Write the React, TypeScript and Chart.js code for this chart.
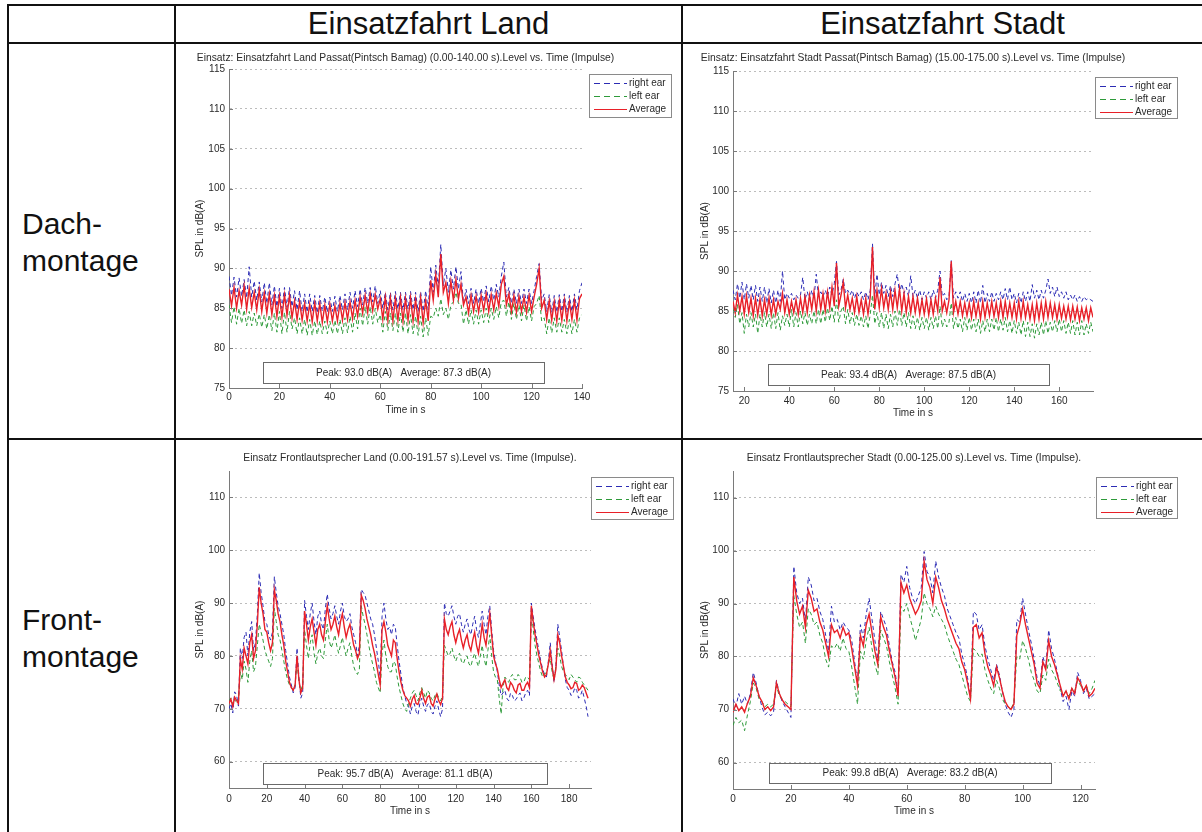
import React, { useEffect, useRef } from "react";
import { Chart, registerables } from "chart.js";

Chart.register(...registerables);

const FONT = '"Liberation Sans", Arial, Helvetica, sans-serif';
const RIGHT_COLOR = "#2c2cb4";
const LEFT_COLOR = "#2e9a3a";
const AVG_COLOR = "#e82028";
const AXIS_COLOR = "#7a7a7a";
const GRID_COLOR = "#bcbcbc";
const TEXT_COLOR = "#2a2a2a";

// ---- Dachmontage, Einsatzfahrt Land: 0–140 s, one sample per second ----
const dachLandT0 = 0;
const dachLandDt = 1;
const dachLandRight = [
  89.0, 86.6, 88.9, 86.4, 88.8, 86.5, 88.6, 86.3, 90.2, 86.4,
  88.4, 86.0, 88.3, 85.8, 88.2, 85.6, 88.2, 85.4, 87.8, 85.2,
  87.5, 85.0, 87.6, 85.1, 87.6, 85.2, 87.2, 84.8, 87.2, 84.6,
  86.8, 84.5, 86.8, 84.6, 86.6, 84.4, 86.6, 84.6, 86.4, 84.5,
  86.4, 84.6, 86.5, 84.6, 86.6, 84.8, 86.8, 84.8, 87.0, 85.0,
  87.2, 85.2, 87.4, 85.4, 87.6, 85.6, 87.6, 85.8, 87.8, 85.6,
  87.2, 85.0, 87.0, 84.8, 87.0, 84.8, 87.1, 84.9, 87.0, 84.8,
  87.0, 84.9, 87.1, 84.8, 87.0, 84.6, 87.1, 84.6, 87.2, 84.8,
  90.2, 87.0, 90.4, 87.6, 93.0, 87.8, 90.0, 87.0, 89.8, 87.4,
  90.2, 87.4, 89.6, 85.6, 87.4, 85.6, 87.5, 85.6, 87.4, 85.6,
  87.5, 85.8, 87.8, 85.8, 87.8, 86.0, 88.0, 86.4, 89.0, 90.8,
  86.4, 87.6, 85.6, 87.4, 85.6, 87.4, 85.6, 87.4, 85.6, 87.4,
  85.6, 87.2, 89.0, 90.6, 86.0, 86.8, 84.6, 86.7, 84.5, 86.6,
  84.5, 86.7, 84.6, 86.8, 84.5, 86.6, 84.6, 86.8, 84.8, 87.2,
  88.2,
];
const dachLandLeft = [
  85.4, 83.2, 85.2, 83.0, 85.0, 83.1, 84.8, 82.8, 84.6, 82.8,
  84.4, 82.8, 84.3, 82.6, 84.2, 82.4, 84.2, 82.2, 84.4, 82.0,
  84.6, 81.8, 84.5, 82.0, 84.6, 82.4, 83.8, 81.8, 83.8, 81.8,
  83.6, 81.6, 83.6, 81.6, 83.4, 81.7, 83.4, 81.8, 83.4, 81.8,
  83.4, 81.8, 83.5, 81.8, 83.6, 81.8, 83.8, 81.9, 84.0, 82.0,
  84.4, 82.4, 85.0, 82.8, 85.2, 83.0, 85.2, 83.0, 85.0, 83.2,
  84.2, 82.0, 84.6, 82.2, 84.4, 82.2, 84.4, 82.0, 84.4, 82.0,
  84.4, 81.8, 84.2, 81.8, 84.0, 81.6, 84.0, 81.4, 83.8, 81.6,
  84.0, 83.8, 85.0, 84.0, 86.2, 84.2, 85.0, 83.6, 85.4, 85.8,
  87.0, 85.6, 85.6, 83.0, 84.8, 83.0, 84.8, 83.0, 84.8, 83.0,
  84.8, 83.2, 85.0, 83.2, 85.0, 83.6, 85.2, 83.8, 85.8, 86.0,
  84.0, 85.8, 83.6, 85.6, 83.6, 85.4, 83.4, 85.4, 83.4, 85.2,
  83.4, 85.2, 85.6, 86.6, 83.4, 83.8, 81.8, 83.8, 81.9, 83.8,
  82.0, 83.8, 82.0, 83.6, 81.8, 83.6, 81.8, 83.6, 82.0, 83.8,
  84.2,
];
const dachLandAvg = [
  87.4, 85.3, 87.6, 85.0, 87.2, 85.4, 87.8, 84.9, 87.5, 85.1,
  87.0, 84.8, 87.3, 84.6, 86.9, 84.4, 86.8, 84.2, 86.6, 84.0,
  86.5, 83.9, 86.7, 84.1, 86.6, 83.8, 85.9, 83.6, 85.8, 83.5,
  85.6, 83.4, 85.5, 83.3, 85.7, 83.4, 85.6, 83.2, 85.4, 83.3,
  85.5, 83.4, 85.3, 83.4, 85.6, 83.5, 85.7, 83.6, 85.8, 83.7,
  86.0, 84.0, 86.4, 84.4, 86.6, 84.5, 86.8, 84.7, 86.7, 84.9,
  86.2, 83.6, 86.4, 83.5, 86.3, 83.4, 86.2, 83.5, 86.3, 83.4,
  86.2, 83.5, 86.3, 83.4, 86.1, 83.3, 86.3, 83.2, 86.0, 83.4,
  88.5, 86.0, 89.2, 86.4, 91.8, 87.0, 88.2, 85.6, 88.4, 86.0,
  88.6, 86.2, 88.0, 85.4, 86.4, 84.4, 86.6, 84.6, 86.5, 84.5,
  86.6, 84.7, 86.8, 84.6, 86.7, 84.8, 86.9, 85.2, 88.0, 89.0,
  85.4, 86.8, 84.6, 86.6, 84.5, 86.5, 84.6, 86.4, 84.5, 86.6,
  84.6, 86.4, 88.0, 90.0, 85.0, 86.0, 83.6, 85.9, 83.5, 85.8,
  83.4, 85.9, 83.5, 86.0, 83.4, 85.8, 83.6, 86.0, 83.5, 86.2,
  86.8,
];
const dachLandPeak = 93.0;
const dachLandAverage = 87.3;

// ---- Dachmontage, Einsatzfahrt Stadt: 15–175 s, one sample per second ----
const dachStadtT0 = 15;
const dachStadtDt = 1;
const dachStadtRight = [
  87.6, 86.4, 88.4, 86.6, 88.6, 86.4, 88.4, 86.6, 88.2, 86.4,
  88.2, 86.2, 88.0, 86.2, 88.0, 86.0, 87.8, 86.0, 87.6, 86.0,
  87.6, 86.2, 90.0, 86.4, 87.2, 86.6, 87.2, 86.4, 87.0, 86.6,
  87.0, 89.2, 86.4, 87.4, 86.4, 87.6, 86.6, 89.6, 86.8, 87.4,
  86.8, 87.6, 86.8, 88.0, 87.0, 88.4, 91.2, 87.0, 87.6, 89.0,
  87.2, 87.6, 87.0, 87.6, 86.6, 87.4, 86.8, 87.4, 86.4, 87.4,
  86.4, 87.6, 93.4, 86.8, 89.6, 87.0, 88.6, 87.2, 88.2, 86.8,
  88.2, 86.8, 88.4, 89.6, 87.2, 88.4, 87.2, 88.0, 86.8, 89.4,
  86.8, 87.6, 86.6, 87.6, 86.4, 87.4, 86.6, 87.4, 86.4, 87.6,
  86.6, 87.6, 90.0, 86.8, 87.2, 86.4, 86.8, 91.3, 86.6, 87.4,
  86.6, 87.4, 86.2, 87.2, 86.2, 87.2, 86.0, 87.4, 86.0, 87.6,
  86.0, 88.2, 86.0, 87.2, 86.2, 87.4, 86.2, 87.2, 86.4, 87.4,
  86.4, 87.8, 86.4, 88.0, 86.4, 87.2, 86.0, 87.2, 86.0, 87.4,
  86.2, 87.4, 86.2, 88.3, 86.6, 87.6, 86.4, 87.6, 86.6, 87.6,
  89.0, 87.2, 88.0, 86.8, 88.0, 86.8, 87.4, 86.6, 87.4, 86.4,
  87.0, 86.4, 87.0, 86.2, 86.8, 86.2, 86.8, 86.4, 86.6, 86.4,
  86.2,
];
const dachStadtLeft = [
  85.2, 84.2, 85.8, 83.4, 84.8, 82.2, 84.6, 83.0, 84.8, 83.0,
  84.6, 82.2, 84.6, 83.0, 84.8, 83.0, 84.6, 82.8, 84.8, 82.8,
  84.8, 82.6, 84.4, 83.2, 84.6, 83.0, 85.2, 83.0, 84.8, 83.0,
  85.0, 83.4, 84.8, 83.2, 84.6, 83.4, 85.0, 83.4, 85.2, 83.4,
  85.2, 83.6, 85.4, 83.8, 85.6, 83.6, 86.4, 83.6, 85.0, 85.6,
  83.4, 85.2, 83.4, 84.8, 83.2, 84.6, 83.2, 84.4, 83.0, 84.4,
  82.8, 84.6, 87.0, 83.4, 84.8, 83.0, 84.8, 82.8, 84.6, 82.8,
  84.6, 83.0, 85.0, 83.2, 85.2, 83.2, 84.8, 83.0, 84.8, 82.8,
  84.4, 82.8, 84.2, 82.6, 84.2, 82.8, 84.2, 82.6, 84.2, 82.8,
  84.4, 82.8, 85.6, 83.0, 84.0, 83.0, 83.6, 86.0, 82.8, 84.2,
  82.8, 84.0, 82.4, 84.2, 82.6, 84.2, 82.6, 84.0, 82.4, 84.0,
  82.2, 83.8, 82.4, 84.0, 82.4, 84.0, 82.6, 84.2, 82.4, 84.0,
  82.6, 84.2, 82.4, 83.8, 82.2, 83.8, 82.2, 83.6, 82.0, 83.8,
  81.8, 83.6, 81.8, 83.4, 81.6, 83.4, 82.0, 83.6, 82.0, 83.8,
  82.2, 83.6, 82.4, 83.8, 82.4, 84.0, 82.4, 83.8, 82.2, 83.6,
  82.2, 83.8, 82.0, 83.6, 82.0, 83.8, 82.0, 83.4, 82.2, 83.6,
  82.4,
];
const dachStadtAvg = [
  86.2, 84.8, 87.0, 85.0, 86.8, 84.6, 86.9, 84.8, 86.6, 84.4,
  86.6, 84.5, 86.5, 84.4, 86.4, 84.6, 86.6, 84.5, 86.4, 84.6,
  86.2, 85.2, 87.2, 84.8, 86.4, 84.6, 86.2, 84.8, 86.4, 84.6,
  86.6, 84.8, 86.8, 84.8, 87.0, 85.2, 87.4, 85.0, 87.6, 85.2,
  87.2, 85.0, 87.4, 85.4, 88.0, 85.6, 91.0, 85.6, 87.0, 88.6,
  85.4, 87.0, 85.2, 86.6, 84.8, 86.8, 84.8, 86.4, 84.6, 86.6,
  84.6, 86.8, 93.0, 85.2, 87.6, 85.4, 87.8, 85.4, 87.2, 85.2,
  87.4, 85.2, 87.6, 85.4, 87.8, 85.0, 87.2, 84.8, 86.8, 84.8,
  86.8, 84.8, 86.6, 84.6, 86.4, 84.6, 86.5, 84.5, 86.4, 84.6,
  86.6, 85.0, 89.2, 85.0, 86.2, 84.8, 86.4, 91.2, 84.8, 86.2,
  84.6, 86.2, 84.4, 86.0, 84.4, 86.0, 84.2, 86.2, 84.3, 86.0,
  84.0, 86.2, 84.2, 86.0, 84.4, 86.2, 84.3, 86.0, 84.2, 86.2,
  84.2, 86.2, 84.3, 86.0, 84.2, 86.0, 84.0, 86.2, 84.1, 86.2,
  84.2, 85.8, 84.0, 85.8, 83.8, 86.0, 84.0, 86.0, 84.0, 86.2,
  84.2, 86.0, 84.2, 85.8, 84.0, 85.8, 84.1, 85.6, 84.0, 85.6,
  83.9, 85.6, 84.0, 85.5, 83.8, 85.4, 84.0, 85.4, 83.8, 85.4,
  84.2,
];
const dachStadtPeak = 93.4;
const dachStadtAverage = 87.5;

// ---- Frontmontage, Land: 0–190 s, one sample per second ----
const frontLandT0 = 0;
const frontLandDt = 1;
const frontLandRight = [
  70.0, 71.0, 69.2, 73.2, 72.6, 70.5, 81.5, 79.5, 83.5, 84.5,
  80.0, 84.5, 86.5, 81.0, 82.5, 88.0, 95.7, 92.0, 89.5, 86.5,
  86.0, 84.0, 83.0, 84.5, 95.0, 92.0, 89.5, 88.0, 86.0, 84.0,
  81.0, 78.5, 76.0, 74.5, 73.0, 74.0, 81.5, 76.0, 72.0, 73.0,
  90.5, 87.5, 85.0, 88.0, 90.0, 86.5, 84.0, 87.5, 88.5, 86.0,
  85.0, 89.0, 91.7, 89.0, 87.0, 88.0, 89.5, 87.5, 86.0, 88.5,
  90.0, 87.5, 86.5, 87.0, 88.0, 85.5, 84.0, 82.5, 80.0, 82.0,
  92.6, 92.0, 91.5, 90.0, 88.5, 87.0, 86.0, 84.0, 81.5, 79.0,
  76.0, 87.5, 90.0, 87.0, 85.0, 85.5, 84.0, 86.0, 85.5, 82.0,
  79.0, 76.5, 74.0, 72.5, 71.0, 70.5, 69.0, 70.5, 71.0, 69.5,
  68.8, 71.0, 72.0, 70.5, 69.5, 70.8, 71.0, 69.5, 69.0, 70.5,
  71.5, 69.8, 68.5, 70.0, 90.0, 88.0, 87.5, 88.5, 89.5, 87.5,
  86.0, 87.5, 88.0, 86.0, 84.5, 86.0, 87.0, 85.0, 84.0, 86.0,
  87.5, 85.0, 83.5, 86.0, 88.5, 86.0, 84.0, 87.5, 89.5, 85.0,
  81.0, 79.0, 77.0, 74.5, 72.5, 73.0, 73.5, 72.0, 71.5, 73.0,
  72.5, 71.5, 71.8, 72.5, 73.0, 71.5, 72.0, 73.0, 73.5, 72.5,
  90.0, 87.5, 85.0, 83.0, 81.0, 79.0, 77.5, 76.5, 76.0, 79.0,
  82.5, 78.5, 75.0, 78.0, 86.0, 83.5, 81.0, 78.0, 75.5, 74.0,
  73.5, 72.5, 72.8, 74.0, 73.5, 72.0, 72.5, 73.5, 72.0, 70.5,
  68.5,
];
const frontLandLeft = [
  71.5, 72.0, 70.8, 71.8, 71.0, 71.5, 77.0, 75.5, 79.0, 77.5,
  75.0, 79.0, 81.0, 77.0, 78.0, 82.0, 86.0, 84.5, 83.0, 81.0,
  80.0, 79.0, 78.0, 79.5, 89.0, 86.5, 84.0, 83.0, 81.0, 79.0,
  77.0, 75.5, 74.5, 74.0, 73.5, 74.5, 79.0, 75.0, 73.5, 74.5,
  85.0, 82.0, 79.5, 82.5, 84.0, 80.5, 78.5, 80.5, 81.5, 80.0,
  79.5, 83.0, 86.0, 83.0, 81.5, 82.5, 84.0, 82.0, 80.5, 82.0,
  83.5, 81.5, 80.0, 81.5, 82.5, 80.0, 78.0, 77.0, 76.5, 77.5,
  89.5, 87.5, 86.0, 84.0, 82.0, 80.0, 78.5, 77.0, 75.0, 74.0,
  73.0, 80.5, 83.0, 80.0, 78.0, 77.0, 77.0, 79.0, 78.5, 76.0,
  74.0, 72.5, 71.0, 70.0, 69.5, 71.0, 72.0, 73.0, 73.5, 72.5,
  71.5, 73.0, 74.0, 73.0, 72.0, 73.5, 73.0, 72.0, 71.5, 72.5,
  73.0, 72.0, 71.5, 72.5, 82.0, 81.0, 80.0, 80.5, 81.5, 80.0,
  79.0, 80.0, 80.5, 79.0, 78.5, 79.5, 80.0, 78.5, 78.0, 79.5,
  80.5, 79.0, 78.0, 80.0, 82.0, 79.5, 78.0, 81.0, 84.0, 80.0,
  77.0, 76.0, 75.5, 72.0, 69.0, 74.0, 76.0, 75.5, 75.0, 76.0,
  76.5, 75.5, 75.5, 76.5, 76.0, 75.0, 75.0, 76.0, 76.0, 75.5,
  88.5, 85.0, 82.0, 80.0, 78.5, 77.0, 76.0, 76.5, 77.0, 78.5,
  79.5, 77.0, 75.5, 78.0, 81.5, 80.0, 78.0, 77.0, 76.5, 76.0,
  75.5, 76.5, 76.0, 75.5, 75.0, 76.0, 75.8, 75.0, 74.5, 74.0,
  73.5,
];
const frontLandAvg = [
  71.0, 71.8, 70.4, 72.2, 71.6, 71.0, 79.5, 77.5, 81.5, 80.0,
  78.5, 82.5, 84.0, 79.5, 81.0, 86.0, 93.0, 90.0, 88.0, 85.0,
  84.5, 82.5, 81.0, 82.5, 92.5, 90.5, 88.0, 86.5, 84.0, 82.0,
  79.0, 77.0, 75.0, 74.0, 73.5, 74.5, 80.0, 75.5, 73.0, 74.0,
  88.5, 86.0, 83.0, 85.5, 87.0, 84.5, 82.0, 85.0, 86.0, 84.0,
  83.0, 86.5, 89.5, 87.0, 85.0, 86.0, 87.5, 85.5, 84.0, 86.5,
  88.0, 85.5, 83.5, 85.0, 86.0, 84.0, 82.0, 81.0, 79.5, 80.5,
  91.5, 90.5, 89.0, 87.0, 85.5, 84.0, 82.0, 80.5, 78.5, 76.5,
  74.5, 85.0, 86.5, 84.5, 82.0, 81.0, 80.0, 83.0, 82.5, 79.5,
  77.0, 75.0, 73.5, 72.5, 72.0, 71.5, 70.5, 71.8, 72.5, 71.0,
  70.8, 72.0, 73.5, 72.0, 71.0, 72.2, 72.5, 71.0, 70.5, 71.8,
  72.8, 71.5, 70.8, 72.0, 87.0, 85.0, 84.0, 85.5, 86.5, 84.0,
  82.5, 84.0, 85.0, 83.0, 81.5, 83.0, 84.0, 82.0, 81.0, 83.0,
  84.5, 82.0, 80.5, 83.0, 86.0, 83.5, 82.0, 85.0, 88.0, 84.0,
  80.0, 78.5, 77.5, 75.5, 74.0, 74.8, 75.5, 74.0, 73.5, 75.0,
  74.5, 73.5, 73.0, 74.5, 74.8, 73.5, 73.5, 74.5, 75.0, 74.0,
  89.5, 86.5, 84.0, 82.0, 80.0, 78.5, 77.0, 76.0, 76.5, 78.5,
  81.0, 78.0, 75.5, 77.5, 84.0, 82.5, 80.0, 78.0, 76.0, 75.0,
  74.5, 73.8, 74.0, 75.0, 74.8, 73.5, 73.8, 74.5, 74.0, 73.0,
  72.0,
];
const frontLandPeak = 95.7;
const frontLandAverage = 81.1;

// ---- Frontmontage, Stadt: 0–125 s, one sample per second ----
const frontStadtT0 = 0;
const frontStadtDt = 1;
const frontStadtRight = [
  72.0, 70.5, 73.0, 71.0, 72.5, 71.0, 73.0, 77.0, 75.0, 72.5,
  70.5, 69.0, 69.5, 68.8, 69.5, 75.5, 73.0, 71.5, 70.5, 69.5,
  68.5, 97.0, 92.0, 90.0, 91.0, 86.5, 95.0, 93.5, 90.5, 91.0,
  88.5, 87.0, 84.0, 81.0, 89.5, 86.5, 87.0, 85.0, 86.5, 85.5,
  85.0, 83.0, 79.0, 75.0, 86.0, 83.5, 88.0, 91.0, 87.0, 83.0,
  79.5, 88.5, 87.0, 85.5, 82.0, 79.0, 77.0, 73.0, 95.5, 94.0,
  97.0, 93.0, 91.0, 90.0, 91.5, 93.0, 99.8, 96.0, 95.0, 92.0,
  98.0, 95.0, 93.0, 91.5, 89.0, 87.5, 86.0, 84.5, 83.5, 80.5,
  78.5, 76.0, 72.0, 88.5, 88.0, 85.0, 86.0, 82.0, 79.5, 77.5,
  75.5, 78.5, 76.5, 73.5, 71.0, 69.5, 68.5, 70.0, 87.0, 86.5,
  91.0, 88.0, 85.0, 82.5, 79.5, 76.0, 74.5, 80.0, 78.0, 85.0,
  81.5, 79.5, 77.0, 74.0, 71.5, 72.5, 70.0, 73.5, 72.5, 77.0,
  75.5, 73.0, 74.0, 72.0, 72.5, 73.0,
];
const frontStadtLeft = [
  67.0, 68.5, 67.5, 68.0, 66.0, 69.0, 71.5, 75.0, 74.0, 72.0,
  71.5, 70.5, 71.0, 70.5, 71.0, 74.5, 72.5, 72.0, 71.5, 71.0,
  70.5, 91.5, 88.0, 85.5, 86.5, 82.5, 89.0, 88.0, 86.0, 86.5,
  84.0, 82.5, 79.5, 78.0, 82.0, 81.5, 82.5, 81.0, 83.5, 81.5,
  81.0, 78.0, 74.5, 71.0, 81.0, 79.5, 83.0, 85.5, 81.5, 78.5,
  76.5, 85.0, 83.5, 82.0, 79.0, 76.5, 74.0, 71.0, 89.5, 88.5,
  90.0, 87.5, 85.5, 83.0, 85.0, 87.0, 92.0, 90.0, 89.0, 87.5,
  89.5, 88.0, 87.0, 86.0, 84.0, 82.5, 81.0, 79.5, 78.5, 76.5,
  74.5, 72.5, 71.5, 81.5, 81.0, 80.0, 80.5, 77.5, 75.5, 74.0,
  73.0, 75.5, 74.0, 72.0, 71.0, 70.5, 70.0, 71.5, 80.0, 79.5,
  83.0, 81.5, 79.5, 77.0, 75.5, 73.5, 73.0, 76.5, 75.5, 79.5,
  77.5, 76.5, 75.0, 73.5, 73.0, 73.5, 72.5, 74.0, 73.5, 75.5,
  74.5, 73.5, 74.5, 73.0, 74.0, 75.5,
];
const frontStadtAvg = [
  69.5, 71.0, 69.8, 70.5, 69.5, 71.2, 72.5, 76.0, 74.5, 72.5,
  71.5, 70.0, 70.5, 69.8, 70.5, 75.0, 73.0, 71.8, 71.0, 70.5,
  70.0, 95.0, 90.5, 88.0, 89.5, 85.5, 92.5, 91.0, 88.5, 89.0,
  86.5, 85.0, 82.5, 80.0, 86.0, 84.5, 85.0, 83.5, 85.5, 84.0,
  84.5, 81.5, 78.0, 74.5, 84.0, 82.0, 86.0, 88.0, 84.5, 81.0,
  78.5, 87.5, 85.5, 84.0, 81.0, 78.5, 76.0, 72.5, 94.0, 92.0,
  93.5, 91.0, 89.5, 88.0, 89.0, 90.5, 98.0, 94.5, 93.0, 90.0,
  95.0, 93.0, 90.5, 89.0, 87.0, 85.5, 84.0, 82.5, 81.5, 79.0,
  77.5, 75.0, 72.0, 85.5, 86.0, 83.5, 84.5, 80.5, 78.0, 76.5,
  74.5, 78.0, 76.0, 73.5, 71.5, 70.5, 70.0, 71.0, 84.0, 86.0,
  89.0, 86.0, 83.5, 81.0, 78.5, 75.0, 74.0, 79.0, 77.5, 83.0,
  80.0, 78.5, 76.5, 74.5, 72.5, 73.5, 72.0, 74.0, 73.0, 76.0,
  75.0, 73.5, 74.5, 72.5, 73.0, 74.0,
];
const frontStadtPeak = 99.8;
const frontStadtAverage = 83.2;

// ---- Axis ticks ----
const dachYTicks = [75, 80, 85, 90, 95, 100, 105, 110, 115];
const frontYTicks = [60, 70, 80, 90, 100, 110];
const dachLandXTicks = [0, 20, 40, 60, 80, 100, 120, 140];
const dachStadtXTicks = [20, 40, 60, 80, 100, 120, 140, 160];
const frontLandXTicks = [0, 20, 40, 60, 80, 100, 120, 140, 160, 180];
const frontStadtXTicks = [0, 20, 40, 60, 80, 100, 120];

// ---- Table labels ----
const columnHeaders = ["Einsatzfahrt Land", "Einsatzfahrt Stadt"];
const rowHeaders = [["Dach-", "montage"], ["Front-", "montage"]];

const seriesStyles = [
  { label: "right ear", color: RIGHT_COLOR, width: 1, dash: [4, 3], keyDash: [6, 4] },
  { label: "left ear", color: LEFT_COLOR, width: 1, dash: [4, 3], keyDash: [6, 4] },
  { label: "Average", color: AVG_COLOR, width: 1.4, dash: [] as number[], keyDash: [] as number[] },
];

type Rect = [number, number, number, number];

interface Panel {
  id: string;
  left: number;
  top: number;
  width: number;
  height: number;
  plot: Rect; // left, top, right, bottom inside the canvas
  title: string;
  titleY: number;
  xLabelY: number;
  yLabelX: number;
  tickPad: number;
  t0: number;
  dt: number;
  xMin: number;
  xMax: number;
  xTicks: number[];
  yMin: number;
  yMax: number;
  yTicks: number[];
  right: number[];
  leftEar: number[];
  avg: number[];
  peak: number;
  average: number;
  legendBox: Rect;
  summaryBox: Rect;
}

const panels: Panel[] = [
  {
    id: "dach-land",
    left: 177, top: 45, width: 504, height: 392,
    plot: [52, 24, 405, 343],
    title: "Einsatz: Einsatzfahrt Land Passat(Pintsch Bamag) (0.00-140.00 s).Level vs. Time (Impulse)",
    titleY: 13, xLabelY: 365, yLabelX: 23, tickPad: 3,
    t0: dachLandT0, dt: dachLandDt, xMin: 0, xMax: 140, xTicks: dachLandXTicks,
    yMin: 75, yMax: 115, yTicks: dachYTicks,
    right: dachLandRight, leftEar: dachLandLeft, avg: dachLandAvg,
    peak: dachLandPeak, average: dachLandAverage,
    legendBox: [412, 29, 494, 72],
    summaryBox: [86, 317, 367, 338],
  },
  {
    id: "dach-stadt",
    left: 684, top: 45, width: 518, height: 392,
    plot: [49, 26, 409, 346],
    title: "Einsatz: Einsatzfahrt Stadt Passat(Pintsch Bamag) (15.00-175.00 s).Level vs. Time (Impulse)",
    titleY: 13, xLabelY: 368, yLabelX: 21, tickPad: 4,
    t0: dachStadtT0, dt: dachStadtDt, xMin: 15, xMax: 175, xTicks: dachStadtXTicks,
    yMin: 75, yMax: 115, yTicks: dachYTicks,
    right: dachStadtRight, leftEar: dachStadtLeft, avg: dachStadtAvg,
    peak: dachStadtPeak, average: dachStadtAverage,
    legendBox: [411, 32, 493, 73],
    summaryBox: [84, 319, 365, 340],
  },
  {
    id: "front-land",
    left: 177, top: 441, width: 504, height: 391,
    plot: [52, 30, 414, 347],
    title: "Einsatz Frontlautsprecher Land (0.00-191.57 s).Level vs. Time (Impulse).",
    titleY: 17, xLabelY: 370, yLabelX: 23, tickPad: 5,
    t0: frontLandT0, dt: frontLandDt, xMin: 0, xMax: 191.57, xTicks: frontLandXTicks,
    yMin: 55, yMax: 115, yTicks: frontYTicks,
    right: frontLandRight, leftEar: frontLandLeft, avg: frontLandAvg,
    peak: frontLandPeak, average: frontLandAverage,
    legendBox: [414, 36, 496, 78],
    summaryBox: [86, 322, 370, 343],
  },
  {
    id: "front-stadt",
    left: 684, top: 441, width: 518, height: 391,
    plot: [49, 30, 411, 348],
    title: "Einsatz Frontlautsprecher Stadt (0.00-125.00 s).Level vs. Time (Impulse).",
    titleY: 17, xLabelY: 370, yLabelX: 21, tickPad: 4,
    t0: frontStadtT0, dt: frontStadtDt, xMin: 0, xMax: 125, xTicks: frontStadtXTicks,
    yMin: 55, yMax: 115, yTicks: frontYTicks,
    right: frontStadtRight, leftEar: frontStadtLeft, avg: frontStadtAvg,
    peak: frontStadtPeak, average: frontStadtAverage,
    legendBox: [412, 36, 493, 77],
    summaryBox: [85, 322, 367, 342],
  },
];

// Titles, axis labels, inward tick marks, legend and the peak/average box.
function decorations(p: Panel) {
  return {
    id: "splDecor",
    afterDraw(chart: any) {
      const { ctx, chartArea: a, scales } = chart;
      const xs = scales.x;
      const ys = scales.y;
      const cx = (a.left + a.right) / 2;
      ctx.save();

      ctx.strokeStyle = AXIS_COLOR;
      ctx.lineWidth = 1;
      ctx.setLineDash([]);
      ctx.beginPath();
      for (const v of p.yTicks) {
        const y = Math.round(ys.getPixelForValue(v)) + 0.5;
        ctx.moveTo(a.left, y);
        ctx.lineTo(a.left + 4, y);
      }
      for (const v of p.xTicks) {
        const x = Math.round(xs.getPixelForValue(v)) + 0.5;
        ctx.moveTo(x, a.bottom);
        ctx.lineTo(x, a.bottom - 4);
      }
      ctx.stroke();

      ctx.fillStyle = TEXT_COLOR;
      ctx.textAlign = "center";
      ctx.textBaseline = "middle";
      ctx.font = `10.3px ${FONT}`;
      ctx.fillText(p.title, cx, p.titleY);

      ctx.font = `10px ${FONT}`;
      ctx.fillText("Time in s", cx, p.xLabelY);
      ctx.save();
      ctx.translate(p.yLabelX, (a.top + a.bottom) / 2);
      ctx.rotate(-Math.PI / 2);
      ctx.fillText("SPL in dB(A)", 0, 0);
      ctx.restore();

      // summary box
      const [sx1, sy1, sx2, sy2] = p.summaryBox;
      ctx.fillStyle = "#ffffff";
      ctx.fillRect(sx1, sy1, sx2 - sx1, sy2 - sy1);
      ctx.strokeStyle = "#6a6a6a";
      ctx.strokeRect(sx1 + 0.5, sy1 + 0.5, sx2 - sx1, sy2 - sy1);
      ctx.fillStyle = TEXT_COLOR;
      ctx.fillText(
        `Peak: ${p.peak.toFixed(1)} dB(A)   Average: ${p.average.toFixed(1)} dB(A)`,
        (sx1 + sx2) / 2,
        (sy1 + sy2) / 2 + 0.5
      );

      // legend
      const [lx1, ly1, lx2, ly2] = p.legendBox;
      ctx.fillStyle = "#ffffff";
      ctx.fillRect(lx1, ly1, lx2 - lx1, ly2 - ly1);
      ctx.strokeStyle = "#8a8a8a";
      ctx.strokeRect(lx1 + 0.5, ly1 + 0.5, lx2 - lx1, ly2 - ly1);
      ctx.textAlign = "left";
      seriesStyles.forEach((s, i) => {
        const y = Math.round(ly1 + 9 + i * 13) + 0.5;
        ctx.save();
        ctx.strokeStyle = s.color;
        ctx.lineWidth = 1;
        ctx.setLineDash(s.keyDash);
        ctx.beginPath();
        ctx.moveTo(lx1 + 5, y);
        ctx.lineTo(lx1 + 38, y);
        ctx.stroke();
        ctx.restore();
        ctx.fillStyle = TEXT_COLOR;
        ctx.fillText(s.label, lx1 + 40, y);
      });

      ctx.restore();
    },
  };
}

function SplChart({ p }: { p: Panel }) {
  const ref = useRef<HTMLCanvasElement>(null);

  useEffect(() => {
    const canvas = ref.current;
    if (!canvas) return;
    const toPoints = (vals: number[]) => vals.map((v, i) => ({ x: p.t0 + i * p.dt, y: v }));
    const [pl, pt, pr, pb] = p.plot;
    const tickFont = { family: FONT, size: 10 };
    const values = [p.right, p.leftEar, p.avg];

    const chart = new Chart(canvas, {
      type: "line",
      data: {
        datasets: seriesStyles.map((s, i) => ({
          label: s.label,
          data: toPoints(values[i]),
          borderColor: s.color,
          borderWidth: s.width,
          borderDash: s.dash,
          pointRadius: 0,
          order: 2 - i,
        })),
      },
      options: {
        animation: false,
        responsive: false,
        devicePixelRatio: 1,
        events: [],
        layout: {
          autoPadding: false,
          padding: { left: 0, top: pt, right: p.width - pr, bottom: 0 },
        },
        elements: { line: { tension: 0 } },
        plugins: {
          legend: { display: false },
          tooltip: { enabled: false },
          title: { display: false },
        },
        scales: {
          x: {
            type: "linear",
            min: p.xMin,
            max: p.xMax,
            afterBuildTicks: (s: any) => {
              s.ticks = p.xTicks.map((v) => ({ value: v }));
            },
            afterFit: (s: any) => {
              s.height = p.height - pb;
            },
            grid: { display: false, drawTicks: false },
            border: { display: true, color: AXIS_COLOR, width: 1 },
            ticks: {
              color: TEXT_COLOR,
              font: tickFont,
              padding: p.tickPad,
              maxRotation: 0,
              autoSkip: false,
            },
          },
          y: {
            type: "linear",
            min: p.yMin,
            max: p.yMax,
            afterBuildTicks: (s: any) => {
              s.ticks = p.yTicks.map((v) => ({ value: v }));
            },
            afterFit: (s: any) => {
              s.width = pl;
            },
            grid: { color: GRID_COLOR, lineWidth: 1, drawTicks: false },
            border: { display: true, color: AXIS_COLOR, width: 1, dash: [2, 3] },
            ticks: { color: TEXT_COLOR, font: tickFont, padding: 4, autoSkip: false },
          },
        },
      } as any,
      plugins: [decorations(p)],
    });

    return () => chart.destroy();
  }, [p]);

  return (
    <canvas
      ref={ref}
      width={p.width}
      height={p.height}
      style={{ position: "absolute", left: p.left, top: p.top, width: p.width, height: p.height }}
    />
  );
}

const rule = (left: number, top: number, width: number, height: number): React.CSSProperties => ({
  position: "absolute",
  left,
  top,
  width,
  height,
  background: "#111",
});

export default function App() {
  return (
    <div
      style={{
        position: "absolute",
        left: 0,
        top: 0,
        width: 1202,
        height: 832,
        overflow: "hidden",
        background: "#ffffff",
        fontFamily: FONT,
        color: "#111",
      }}
    >
      {/* table rules */}
      <div style={rule(7, 4, 1195, 2)} />
      <div style={rule(7, 42, 1195, 2)} />
      <div style={rule(7, 438, 1195, 2)} />
      <div style={rule(7, 4, 2, 828)} />
      <div style={rule(174, 4, 2, 828)} />
      <div style={rule(681, 4, 2, 828)} />

      {/* column headers */}
      <div
        style={{ position: "absolute", left: 176, top: 6, width: 505, height: 36, lineHeight: "36px", fontSize: 31, textAlign: "center" }}
      >
        {columnHeaders[0]}
      </div>
      <div
        style={{ position: "absolute", left: 683, top: 6, width: 519, height: 36, lineHeight: "36px", fontSize: 31, textAlign: "center" }}
      >
        {columnHeaders[1]}
      </div>

      {/* row headers */}
      {rowHeaders.map((lines, i) => (
        <div
          key={lines[0]}
          style={{ position: "absolute", left: 22, top: 205 + i * 396, fontSize: 30, lineHeight: "37px" }}
        >
          {lines.map((l) => (
            <div key={l}>{l}</div>
          ))}
        </div>
      ))}

      {panels.map((p) => (
        <SplChart key={p.id} p={p} />
      ))}
    </div>
  );
}
